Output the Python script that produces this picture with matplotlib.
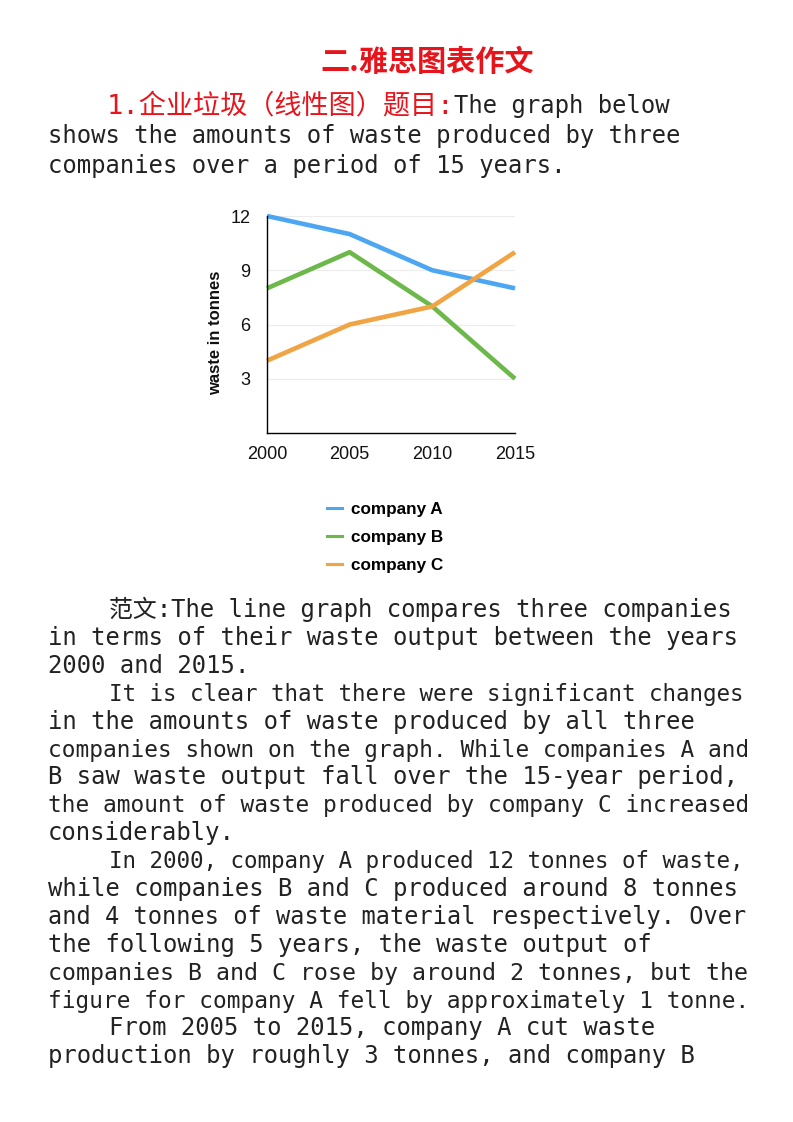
import matplotlib
import matplotlib.pyplot as plt
from matplotlib.lines import Line2D

matplotlib.use('Agg')

# 图表数据
years = [2000, 2005, 2010, 2015]
company_a = [12, 11, 9, 8]
company_b = [8, 10, 7, 3]
company_c = [4, 6, 7, 10]
series_labels = ['company A', 'company B', 'company C']
y_ticks = [3, 6, 9, 12]
y_label = 'waste in tonnes'

# 页面文字
heading = '二.雅思图表作文'
task_red = '1.企业垃圾（线性图）题目:'
task_lines = ['The graph below',
              'shows the amounts of waste produced by three',
              'companies over a period of 15 years.']
# (文字, 段首缩进)
essay_lines = [
    ('范文:The line graph compares three companies', True),
    ('in terms of their waste output between the years', False),
    ('2000 and 2015.', False),
    ('It is clear that there were significant changes', True),
    ('in the amounts of waste produced by all three', False),
    ('companies shown on the graph. While companies A and', False),
    ('B saw waste output fall over the 15-year period,', False),
    ('the amount of waste produced by company C increased', False),
    ('considerably.', False),
    ('In 2000, company A produced 12 tonnes of waste,', True),
    ('while companies B and C produced around 8 tonnes', False),
    ('and 4 tonnes of waste material respectively. Over', False),
    ('the following 5 years, the waste output of', False),
    ('companies B and C rose by around 2 tonnes, but the', False),
    ('figure for company A fell by approximately 1 tonne.', False),
    ('From 2005 to 2015, company A cut waste', True),
    ('production by roughly 3 tonnes, and company B', False),
]

W, H = 793, 1122
fig = plt.figure(figsize=(W / 100, H / 100), dpi=100)


def fx(px):
    return px / W


def fy(py):
    return 1 - py / H


mono = ['DejaVu Sans Mono', 'Noto Sans CJK SC']
sans = ['Liberation Sans', 'DejaVu Sans']
red = '#e8141c'
text_color = '#222222'
base_fs = 17.2
right_edge = 746

# 标题
fig.text(fx(427), fy(62), heading, color=red, fontsize=21, fontweight='bold',
         family=['Noto Sans CJK SC'], ha='center', va='center')

# 题目
t_red = fig.text(fx(107), fy(113), task_red, color=red, fontsize=19.5,
                 family=mono, va='baseline')
fig.canvas.draw()
bb = t_red.get_window_extent()
fig.text(bb.x1 / W, fy(113), task_lines[0], color=text_color, fontsize=base_fs,
         family=mono, va='baseline')
fig.text(fx(48), fy(143), task_lines[1], color=text_color, fontsize=base_fs,
         family=mono, va='baseline')
fig.text(fx(48), fy(173), task_lines[2], color=text_color, fontsize=base_fs,
         family=mono, va='baseline')

# 范文，超出右边界的行缩小字号
texts = []
for k, (line, indent) in enumerate(essay_lines):
    x0 = 109 if indent else 48
    t = fig.text(fx(x0), fy(617 + 27.9 * k), line, color=text_color,
                 fontsize=base_fs, family=mono, va='baseline')
    texts.append((t, x0))
fig.canvas.draw()
for t, x0 in texts:
    w = t.get_window_extent().width
    if x0 + w > right_edge:
        t.set_fontsize(base_fs * (right_edge - x0) / w)

# 折线图
ax = fig.add_axes([fx(267), fy(433), (515 - 267) / W, (433 - 216) / H])
colors = ['#4da6f2', '#6cb84a', '#f0a444']
for vals, c in zip([company_a, company_b, company_c], colors):
    ax.plot(years, vals, color=c, lw=3.3, solid_capstyle='butt', clip_on=False)
ax.set_xlim(years[0], years[-1])
ax.set_ylim(0, 12)
ax.set_xticks(years)
ax.set_yticks(y_ticks)
ax.grid(axis='y', color='#ececec', lw=0.8)
ax.set_axisbelow(True)
for s in ['top', 'right']:
    ax.spines[s].set_visible(False)
for s in ['left', 'bottom']:
    ax.spines[s].set_color('black')
    ax.spines[s].set_linewidth(1.0)
ax.tick_params(length=0, labelsize=13, colors='#111111')
ax.tick_params(axis='x', pad=9)
ax.tick_params(axis='y', pad=12)
for lab in ax.get_xticklabels() + ax.get_yticklabels():
    lab.set_family(sans)

fig.text(fx(216), fy(333), y_label, rotation=90, ha='center', va='center',
         fontsize=12, fontweight='bold', family=sans, color='#111111')

# 图例
handles = [Line2D([], [], color=c, lw=2.2) for c in colors]
fig.legend(handles, series_labels, loc='upper left',
           bbox_to_anchor=(fx(327), fy(502)), frameon=False,
           handlelength=0.87, handletextpad=0.55, labelspacing=0.76,
           borderpad=0, borderaxespad=0,
           prop={'family': sans, 'weight': 'bold', 'size': 12.3})

fig.savefig('out.png', dpi=100, facecolor='white')
